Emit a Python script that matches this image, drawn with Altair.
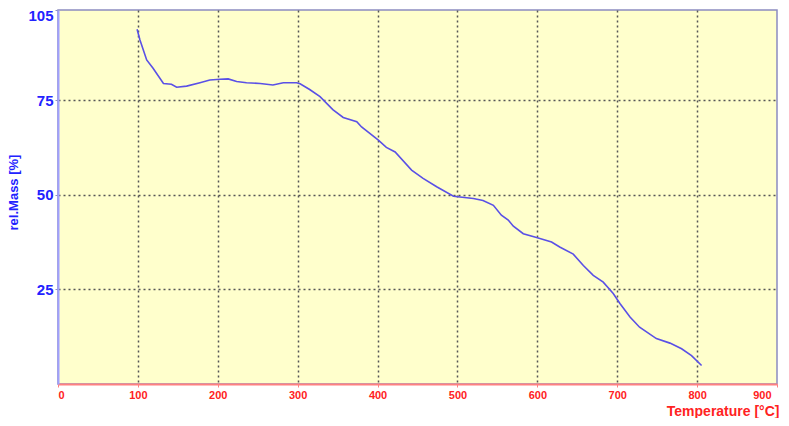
import altair as alt
import pandas as pd

# Values
temperature = [99, 102.6, 111, 119, 132, 142, 148.5, 161, 177.7, 190, 202.8, 213,
               223.6, 236, 253, 269, 282, 298.7, 303, 315, 328, 344, 357, 374, 380,
               401, 411, 422, 442.6, 457, 474, 495, 520, 532, 545, 555, 563.6, 570,
               582.4, 599, 617.8, 628, 645, 657.6, 670, 682.5, 695, 703.6, 716, 728,
               749, 766, 780.6, 793, 805.6]
rel_mass = [93.7, 90.9, 85.6, 83.4, 79.4, 79.2, 78.4, 78.7, 79.6, 80.3, 80.5, 80.6,
            79.9, 79.6, 79.4, 79.0, 79.6, 79.6, 79.3, 77.8, 75.9, 72.5, 70.4, 69.3, 67.9,
            64.4, 62.5, 61.3, 56.5, 54.3, 52.1, 49.6, 49.0, 48.5, 47.2, 44.6, 43.3, 41.7,
            39.7, 38.7, 37.5, 36.2, 34.3, 31.3, 28.7, 26.9, 23.9, 21.2, 17.7, 15.0,
            12.0, 10.8, 9.3, 7.5, 4.9]

x_ticks = [0, 100, 200, 300, 400, 500, 600, 700, 800, 900]
y_top = 98.8
y_ticks = [25, 50, 75, y_top]
top_label = "105"

df = pd.DataFrame({"T": temperature, "m": rel_mass})

chart = alt.Chart(df).mark_line(color="#5a50e6", strokeWidth=1.6).encode(
    x=alt.X("T:Q",
            scale=alt.Scale(domain=[0, 900], nice=False, zero=False),
            axis=alt.Axis(
                values=x_ticks, format="d",
                title="Temperature  [°C]",
                titleColor="#ff2222", titleFont="Liberation Sans",
                titleFontSize=14, titleFontWeight="bold",
                titleAnchor="end", titleAlign="right",
                titleX=721, titleY=31, titleBaseline="alphabetic",
                labelColor="#ff2222", labelFont="Liberation Sans",
                labelFontSize=11, labelFontWeight="bold", labelPadding=2,
                labelOffset={"condition": {"test": "datum.value == 900", "value": -6}, "value": 0},
                domainColor="#ff8080", domainWidth=2,
                tickColor="#ff8080", tickSize=3,
                grid=True, gridColor="#555555", gridDash=[2, 3], gridWidth=1.5,
                gridOpacity={"condition": {"test": "datum.value == 0 || datum.value == 900",
                                           "value": 0}, "value": 1},
            )),
    y=alt.Y("m:Q",
            scale=alt.Scale(domain=[0, y_top], nice=False, zero=False),
            axis=alt.Axis(
                values=y_ticks,
                labelExpr=f"datum.value > 90 ? '{top_label}' : datum.label",
                title="rel.Mass [%]",
                titleColor="#2222ff", titleFont="Liberation Sans",
                titleFontSize=13, titleFontWeight="bold",
                titleX=-38, titleY=182, titleBaseline="bottom", titleAlign="center",
                titleAngle=270,
                labelColor="#2222ff", labelFont="Liberation Sans",
                labelFontSize=15, labelFontWeight="bold", labelPadding=2,
                labelOffset={"condition": {"test": "datum.value > 90", "value": 5}, "value": 0},
                domainColor="#a0a0ff", domainWidth=2,
                tickColor="#9090c0", tickSize=3,
                grid=True, gridColor="#555555", gridDash=[2, 3], gridWidth=1.5,
                gridOpacity={"condition": {"test": "datum.value > 90", "value": 0}, "value": 1},
            )),
).properties(
    width=719,
    height=374,
    autosize=alt.AutoSizeParams(type="none"),
    padding={"left": 50, "top": 2, "right": 4, "bottom": 34},
).configure_view(
    fill="#ffffcc",
    stroke="#8c8cc0",
    strokeWidth=1.5,
)

chart.save("out.html", embed_options={"renderer": "svg", "actions": False})
